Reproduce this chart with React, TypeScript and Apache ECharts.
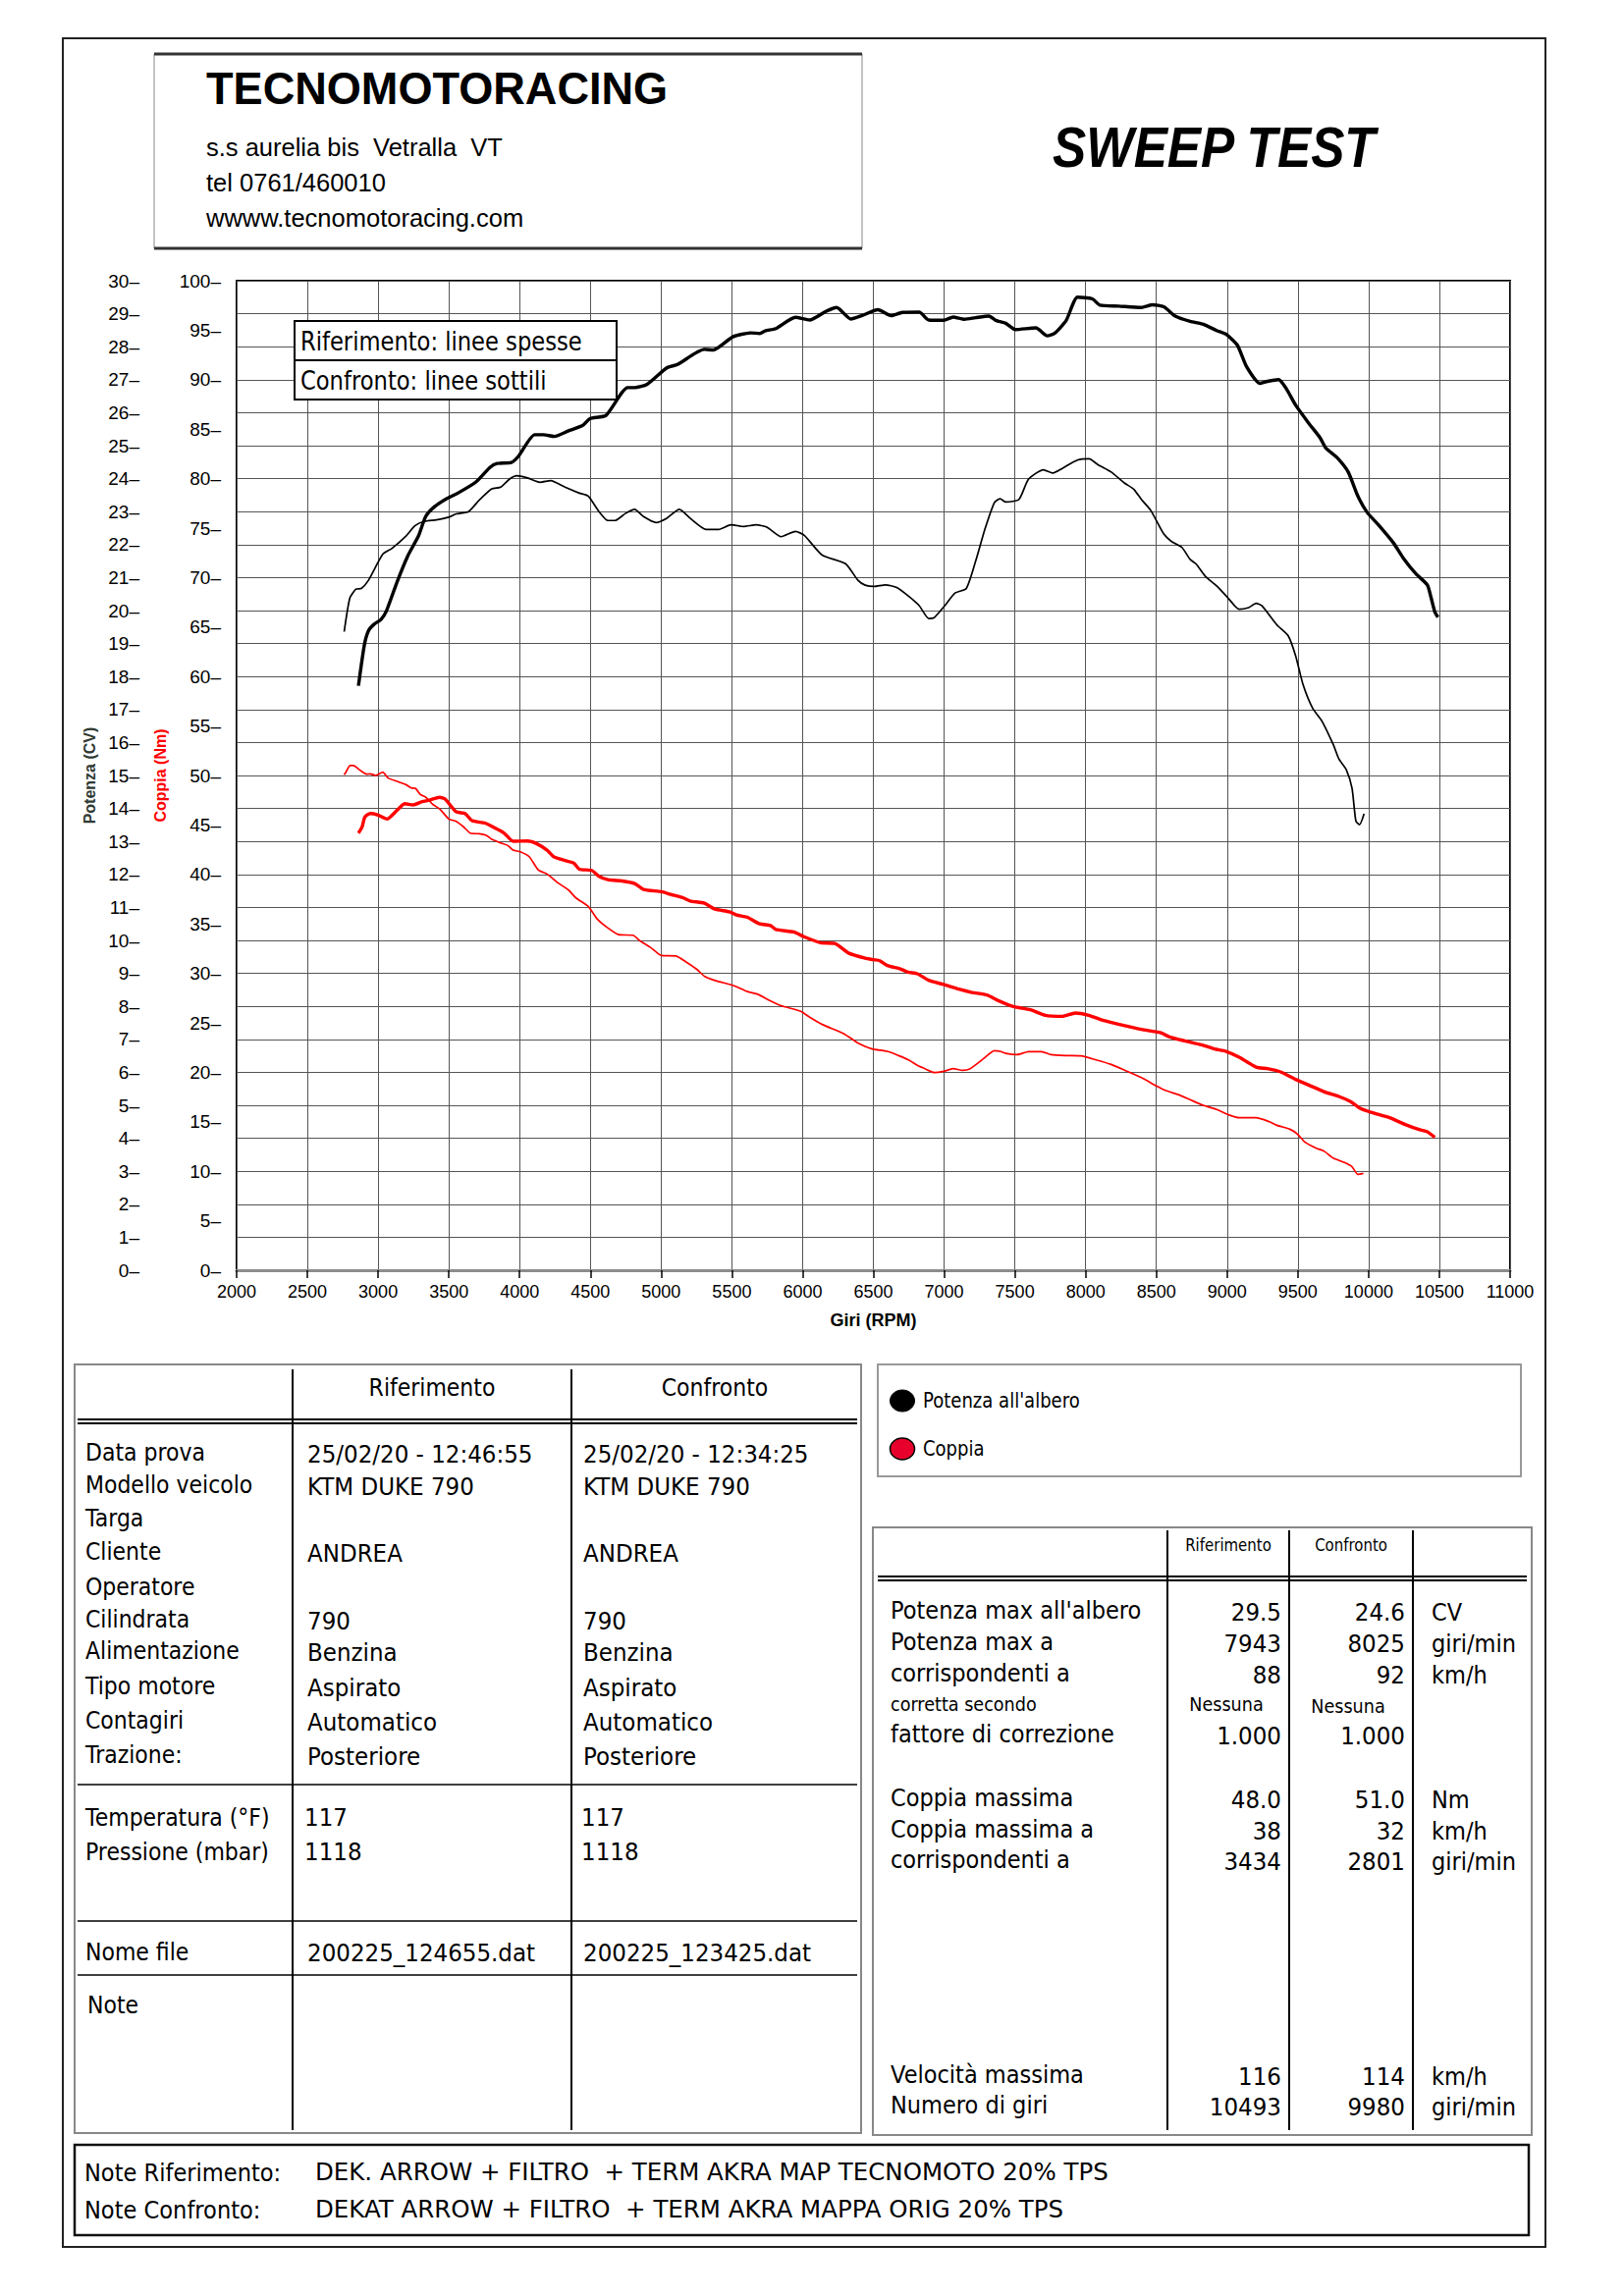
import React, { useEffect, useRef } from 'react';
import * as echarts from 'echarts';

// ---------- DATA ----------
const rpmMin = 2000;
const rpmMax = 11000;
const rpmStep = 500;
const cvMax = 30;
const nmMax = 100;

// Riferimento (thick) power, CV
const rifPower: [number, number][] = [
  [2861, 17.72], [2902, 18.94], [2932, 19.39], [2970, 19.58], [3020, 19.73], [3058, 19.98], [3134, 20.87], [3210, 21.66],
  [3285, 22.26], [3336, 22.85], [3399, 23.15], [3487, 23.4], [3563, 23.56], [3689, 23.89], [3790, 24.34], [3841, 24.46],
  [3942, 24.49], [3992, 24.68], [4106, 25.33], [4169, 25.33], [4245, 25.28], [4346, 25.45], [4447, 25.62], [4497, 25.82],
  [4611, 25.92], [4763, 26.76], [4813, 26.76], [4901, 26.86], [5040, 27.36], [5116, 27.46], [5305, 27.92], [5369, 27.9],
  [5507, 28.3], [5634, 28.42], [5697, 28.4], [5735, 28.48], [5811, 28.55], [5949, 28.89], [6050, 28.81], [6164, 29.07],
  [6240, 29.19], [6341, 28.84], [6417, 28.94], [6532, 29.12], [6625, 28.94], [6705, 29.04], [6824, 29.05], [6891, 28.81],
  [6997, 28.8], [7064, 28.9], [7144, 28.83], [7223, 28.88], [7316, 28.93], [7370, 28.79], [7436, 28.71], [7503, 28.52],
  [7649, 28.57], [7729, 28.33], [7782, 28.41], [7862, 28.79], [7943, 29.5], [8048, 29.45], [8101, 29.26], [8234, 29.23],
  [8394, 29.19], [8473, 29.27], [8553, 29.21], [8633, 28.93], [8739, 28.77], [8832, 28.68], [8926, 28.49], [8992, 28.38],
  [9072, 28.05], [9138, 27.39], [9231, 26.89], [9285, 26.95], [9364, 27.0], [9418, 26.73], [9484, 26.23], [9577, 25.68],
  [9657, 25.24], [9697, 24.93], [9777, 24.64], [9856, 24.2], [9923, 23.48], [9989, 22.98], [10069, 22.6], [10176, 22.05],
  [10242, 21.61], [10335, 21.11], [10415, 20.78], [10441, 20.4], [10468, 19.96], [10490, 19.8]
];

// Confronto (thin) power, CV
const confPower: [number, number][] = [
  [2760, 19.36], [2800, 20.38], [2843, 20.65], [2881, 20.67], [2932, 20.92], [3033, 21.71], [3096, 21.88], [3197, 22.26],
  [3260, 22.57], [3323, 22.7], [3412, 22.75], [3500, 22.83], [3551, 22.93], [3639, 23.0], [3715, 23.35], [3803, 23.69],
  [3866, 23.74], [3929, 23.99], [3980, 24.09], [4056, 24.02], [4144, 23.89], [4220, 23.94], [4321, 23.74], [4422, 23.56],
  [4485, 23.47], [4561, 23.0], [4624, 22.73], [4674, 22.73], [4750, 22.95], [4813, 23.07], [4876, 22.85], [4965, 22.67],
  [5040, 22.8], [5129, 23.07], [5205, 22.8], [5318, 22.46], [5407, 22.46], [5495, 22.6], [5583, 22.55], [5672, 22.6],
  [5747, 22.53], [5848, 22.24], [5949, 22.4], [6012, 22.28], [6138, 21.68], [6303, 21.42], [6391, 20.92], [6442, 20.77],
  [6505, 20.73], [6585, 20.78], [6665, 20.7], [6745, 20.45], [6824, 20.15], [6891, 19.76], [6931, 19.79], [7011, 20.18],
  [7077, 20.53], [7157, 20.67], [7223, 21.5], [7290, 22.49], [7356, 23.28], [7396, 23.39], [7436, 23.29], [7529, 23.37],
  [7596, 23.98], [7702, 24.27], [7769, 24.17], [7835, 24.31], [7941, 24.56], [8025, 24.6], [8088, 24.42], [8181, 24.2],
  [8274, 23.87], [8340, 23.68], [8394, 23.37], [8460, 23.04], [8553, 22.32], [8606, 22.1], [8680, 21.92], [8739, 21.55],
  [8779, 21.42], [8846, 21.04], [8926, 20.75], [8992, 20.45], [9059, 20.12], [9085, 20.04], [9152, 20.09], [9205, 20.22],
  [9245, 20.15], [9351, 19.57], [9431, 19.24], [9484, 18.63], [9537, 17.75], [9604, 17.04], [9670, 16.65], [9750, 15.94],
  [9790, 15.5], [9843, 15.17], [9883, 14.61], [9910, 13.62], [9936, 13.51], [9968, 13.84]
];

// Riferimento (thick) torque, Nm
const rifTorque: [number, number][] = [
  [2861, 44.17], [2886, 44.77], [2907, 45.83], [2944, 46.16], [2995, 46.03], [3063, 45.6], [3134, 46.49], [3189, 47.15],
  [3247, 47.02], [3311, 47.35], [3361, 47.5], [3434, 47.8], [3475, 47.6], [3551, 46.33], [3614, 46.16], [3664, 45.43],
  [3753, 45.2], [3803, 44.87], [3891, 44.17], [3954, 43.35], [4056, 43.38], [4119, 43.12], [4194, 42.45], [4240, 41.79],
  [4321, 41.4], [4384, 41.13], [4422, 40.53], [4510, 40.4], [4561, 39.81], [4624, 39.47], [4725, 39.34], [4813, 39.08],
  [4876, 38.48], [5003, 38.25], [5066, 37.99], [5154, 37.65], [5205, 37.32], [5306, 37.09], [5381, 36.49], [5482, 36.23],
  [5533, 35.9], [5609, 35.67], [5697, 35.0], [5773, 34.84], [5811, 34.44], [5937, 34.18], [6013, 33.68], [6126, 33.09],
  [6227, 33.02], [6328, 32.03], [6442, 31.53], [6500, 31.38], [6545, 31.28], [6598, 30.79], [6691, 30.45], [6745, 30.12],
  [6811, 29.96], [6891, 29.3], [6997, 28.87], [7104, 28.4], [7197, 28.07], [7303, 27.81], [7383, 27.25], [7489, 26.65],
  [7609, 26.32], [7715, 25.76], [7835, 25.66], [7928, 25.99], [8021, 25.76], [8128, 25.23], [8261, 24.77], [8394, 24.34],
  [8527, 24.01], [8593, 23.58], [8700, 23.18], [8819, 22.78], [8912, 22.35], [8992, 22.12], [9085, 21.53], [9205, 20.53],
  [9285, 20.37], [9378, 20.04], [9484, 19.28], [9577, 18.71], [9684, 18.05], [9790, 17.56], [9870, 17.06], [9936, 16.4],
  [10016, 15.97], [10149, 15.41], [10255, 14.75], [10362, 14.19], [10415, 13.99], [10468, 13.43]
];

// Confronto (thin) torque, Nm
const confTorque: [number, number][] = [
  [2760, 50.07], [2775, 50.4], [2801, 51.0], [2826, 51.0], [2869, 50.56], [2919, 50.13], [2944, 50.17], [2982, 50.0],
  [3033, 50.33], [3071, 49.74], [3134, 49.4], [3197, 49.07], [3235, 48.74], [3265, 48.68], [3298, 48.08], [3336, 47.81],
  [3386, 47.09], [3437, 46.59], [3500, 45.6], [3551, 45.37], [3601, 44.84], [3652, 44.17], [3715, 44.11], [3765, 43.94],
  [3803, 43.55], [3866, 43.18], [3917, 42.92], [3954, 42.45], [4005, 42.29], [4068, 41.79], [4131, 40.47], [4194, 40.04],
  [4270, 39.15], [4346, 38.42], [4396, 37.65], [4485, 36.76], [4548, 35.5], [4624, 34.58], [4700, 33.91], [4801, 33.85],
  [4851, 33.29], [4927, 32.6], [5003, 31.8], [5104, 31.76], [5179, 31.13], [5255, 30.38], [5306, 29.71], [5381, 29.28],
  [5482, 28.89], [5533, 28.65], [5609, 28.16], [5684, 27.89], [5760, 27.3], [5848, 26.73], [5987, 26.17], [6050, 25.57],
  [6138, 24.84], [6290, 23.92], [6404, 22.86], [6492, 22.36], [6598, 22.12], [6678, 21.69], [6758, 21.19], [6811, 20.7],
  [6878, 20.27], [6931, 19.97], [6997, 20.1], [7064, 20.37], [7131, 20.2], [7184, 20.37], [7277, 21.36], [7356, 22.19],
  [7396, 22.12], [7436, 21.92], [7516, 21.79], [7596, 22.09], [7689, 22.09], [7755, 21.79], [7862, 21.69], [7968, 21.66],
  [8074, 21.26], [8181, 20.8], [8287, 20.14], [8407, 19.38], [8500, 18.62], [8567, 18.15], [8660, 17.72], [8739, 17.23],
  [8832, 16.66], [8926, 16.24], [9005, 15.74], [9085, 15.41], [9205, 15.41], [9298, 15.01], [9351, 14.65], [9444, 14.25],
  [9497, 13.76], [9551, 12.93], [9630, 12.33], [9684, 12.04], [9750, 11.34], [9830, 10.88], [9883, 10.45], [9923, 9.69],
  [9963, 9.79]
];

// ---------- TEXT CONTENT ----------
const company = 'TECNOMOTORACING';
const addressLines = ['s.s aurelia bis  Vetralla  VT', 'tel 0761/460010', 'wwww.tecnomotoracing.com'];
const title = 'SWEEP TEST';
const chartLegend = ['Riferimento: linee spesse', 'Confronto: linee sottili'];
const colHeaders = ['Riferimento', 'Confronto'];

const infoLabels = ['Data prova', 'Modello veicolo', 'Targa', 'Cliente', 'Operatore', 'Cilindrata', 'Alimentazione', 'Tipo motore', 'Contagiri', 'Trazione:'];
const rifInfo = ['25/02/20 - 12:46:55', 'KTM DUKE 790', '', 'ANDREA', '', '790', 'Benzina', 'Aspirato', 'Automatico', 'Posteriore'];
const confInfo = ['25/02/20 - 12:34:25', 'KTM DUKE 790', '', 'ANDREA', '', '790', 'Benzina', 'Aspirato', 'Automatico', 'Posteriore'];
const envLabels = ['Temperatura (°F)', 'Pressione (mbar)'];
const rifEnv = ['117', '1118'];
const confEnv = ['117', '1118'];
const fileLabel = 'Nome file';
const rifFile = '200225_124655.dat';
const confFile = '200225_123425.dat';
const noteLabel = 'Note';

const legendItems = ["Potenza all'albero", 'Coppia'];

const resLabels = ["Potenza max all'albero", 'Potenza max a', 'corrispondenti a', 'corretta secondo', 'fattore di correzione', 'Coppia massima', 'Coppia massima a', 'corrispondenti a', 'Velocità massima', 'Numero di giri'];
const resRif = ['29.5', '7943', '88', 'Nessuna', '1.000', '48.0', '38', '3434', '116', '10493'];
const resConf = ['24.6', '8025', '92', 'Nessuna', '1.000', '51.0', '32', '2801', '114', '9980'];
const resUnits = ['CV', 'giri/min', 'km/h', '', '', 'Nm', 'km/h', 'giri/min', 'km/h', 'giri/min'];

const footLabels = ['Note Riferimento:', 'Note Confronto:'];
const footValues = ['DEK. ARROW + FILTRO  + TERM AKRA MAP TECNOMOTO 20% TPS', 'DEKAT ARROW + FILTRO  + TERM AKRA MAPPA ORIG 20% TPS'];

// ---------- LAYOUT ----------
const SANS = "'Liberation Sans', Arial, Helvetica, sans-serif";
const NARROW = "'Liberation Sans Narrow', 'Liberation Sans', Arial, sans-serif";
const TAH = "'DejaVu Sans', Verdana, sans-serif";
const W = 1654;
const H = 2339;
const G = { left: 241, top: 286, width: 1297, height: 1008 };
const infoY = [1480, 1513, 1547, 1581, 1617, 1650, 1682, 1718, 1753, 1788];
const envY = [1852, 1887];
const resY = [1641, 1673, 1705, 1736, 1767, 1832, 1864, 1895, 2114, 2145];

function T(text: string, x: number, y: number, o: any = {}) {
  return {
    type: 'text', x, y, z: 30, scaleX: o.sx ?? 0.88, silent: true,
    style: {
      text, fill: o.color ?? '#000', fontSize: o.size ?? 25, fontFamily: o.family ?? TAH,
      fontWeight: o.weight ?? 'normal', fontStyle: o.fstyle ?? 'normal',
      align: o.align ?? 'left', verticalAlign: 'middle'
    }
  };
}
function L(x1: number, y1: number, x2: number, y2: number, color = '#000', w = 2) {
  return { type: 'line', z: 25, silent: true, shape: { x1, y1, x2, y2 }, style: { stroke: color, lineWidth: w } };
}
function R(x: number, y: number, w: number, h: number, stroke: string, lw: number, fill = 'none', z = 20) {
  return { type: 'rect', z, silent: true, shape: { x, y, width: w, height: h }, style: { stroke, lineWidth: lw, fill } };
}

function buildGraphic() {
  const g: any[] = [];
  // page frame
  g.push(R(64, 39, 1510, 2250, '#222', 2));
  // header box
  g.push(R(157, 55, 721, 198, '#888', 1));
  g.push(L(157, 55, 878, 55, '#333', 3));
  g.push(L(157, 253, 878, 253, '#333', 3));
  g.push(T(company, 210, 90, { family: SANS, weight: 'bold', size: 47, sx: 0.96 }));
  addressLines.forEach((s, i) => g.push(T(s, 210, 150 + i * 36, { family: SANS, size: 25.5, sx: 1.0 })));
  g.push(T(title, 1072, 150, { family: SANS, weight: 'bold', fstyle: 'italic', size: 57, sx: 0.9 }));

  // chart legend box
  g.push(R(300, 327, 328, 80, '#000', 2, '#fff', 40));
  g.push({ ...L(300, 367, 628, 367, '#000', 2), z: 41 });
  chartLegend.forEach((s, i) => g.push({ ...T(s, 306, 348 + i * 40, { size: 26, sx: 0.87 }), z: 42 }));

  // left info table
  g.push(R(76, 1390, 801, 783, '#888', 2));
  g.push(L(298, 1395, 298, 2170));
  g.push(L(582, 1395, 582, 2170));
  g.push(L(79, 1446, 873, 1446));
  g.push(L(79, 1450, 873, 1450));
  g.push(L(79, 1818, 873, 1818, '#000', 1.5));
  g.push(L(79, 1957, 873, 1957, '#000', 1.5));
  g.push(L(79, 2012, 873, 2012, '#000', 1.5));
  g.push(T(colHeaders[0], 440, 1414, { align: 'center' }));
  g.push(T(colHeaders[1], 728, 1414, { align: 'center' }));
  infoLabels.forEach((s, i) => {
    g.push(T(s, 87, infoY[i]));
    if (rifInfo[i]) g.push(T(rifInfo[i], 313, infoY[i] + 2, { sx: 0.92 }));
    if (confInfo[i]) g.push(T(confInfo[i], 594, infoY[i] + 2, { sx: 0.92 }));
  });
  envLabels.forEach((s, i) => {
    g.push(T(s, 87, envY[i]));
    g.push(T(rifEnv[i], 310, envY[i], { sx: 0.92 }));
    g.push(T(confEnv[i], 592, envY[i], { sx: 0.92 }));
  });
  g.push(T(fileLabel, 87, 1989));
  g.push(T(rifFile, 313, 1990, { sx: 0.92 }));
  g.push(T(confFile, 594, 1990, { sx: 0.92 }));
  g.push(T(noteLabel, 89, 2043));

  // legend box (right top)
  g.push(R(894, 1390, 655, 114, '#999', 2));
  g.push({ type: 'ellipse', z: 30, silent: true, shape: { cx: 919, cy: 1427, rx: 12.5, ry: 11 }, style: { fill: '#000', stroke: '#000', lineWidth: 1 } });
  g.push({ type: 'ellipse', z: 30, silent: true, shape: { cx: 919, cy: 1476, rx: 12.5, ry: 11 }, style: { fill: '#e8002d', stroke: '#000', lineWidth: 1.5 } });
  g.push(T(legendItems[0], 940, 1427, { size: 20.5 }));
  g.push(T(legendItems[1], 940, 1476, { size: 20.5 }));

  // results table
  g.push(R(889, 1556, 671, 619, '#888', 2));
  g.push(L(1189, 1559, 1189, 2170));
  g.push(L(1313, 1559, 1313, 2170));
  g.push(L(1439, 1559, 1439, 2170));
  g.push(L(894, 1606, 1555, 1606));
  g.push(L(894, 1610, 1555, 1610));
  g.push(T(colHeaders[0], 1251, 1574, { align: 'center', size: 17 }));
  g.push(T(colHeaders[1], 1376, 1574, { align: 'center', size: 17 }));
  resLabels.forEach((s, i) => {
    const small = i === 3;
    g.push(T(s, 907, resY[i], { size: small ? 20 : 25, sx: small ? 0.88 : 0.9 }));
    if (small) {
      g.push(T(resRif[i], 1249, resY[i], { size: 20, align: 'center' }));
      g.push(T(resConf[i], 1373, resY[i] + 2, { size: 20, align: 'center' }));
    } else {
      g.push(T(resRif[i], 1305, resY[i] + 2, { align: 'right', sx: 0.92 }));
      g.push(T(resConf[i], 1431, resY[i] + 2, { align: 'right', sx: 0.92 }));
      if (resUnits[i]) g.push(T(resUnits[i], 1458, resY[i] + 2, { sx: 0.9 }));
    }
  });

  // footer box
  g.push(R(76, 2185, 1481, 92, '#111', 2.5));
  footLabels.forEach((s, i) => {
    g.push(T(s, 86, 2213 + i * 38, { size: 24, sx: 0.94 }));
    g.push(T(footValues[i], 321, 2213 + i * 38, { size: 24, sx: 1.02 }));
  });
  return g;
}

export default function App() {
  const ref = useRef<HTMLDivElement>(null);
  useEffect(() => {
    document.body.style.margin = '0';
    const chart = echarts.init(ref.current!, null, { renderer: 'svg' });
    const axisLabelBase = { fontFamily: NARROW, color: '#000' };
    const option: any = {
      animation: false,
      backgroundColor: '#fff',
      grid: { ...G, show: true, borderColor: '#000', borderWidth: 2, backgroundColor: 'transparent' },
      xAxis: {
        type: 'value', min: rpmMin, max: rpmMax, interval: rpmStep,
        axisLine: { show: true, onZero: false, lineStyle: { color: '#8c8c8c', width: 3 } },
        axisTick: { show: true, length: 8, lineStyle: { color: '#000', width: 1.5 } },
        axisLabel: { ...axisLabelBase, fontSize: 18, margin: 13, formatter: (v: number) => String(v) },
        splitLine: { show: true, lineStyle: { color: '#555', width: 1 } },
        name: 'Giri (RPM)', nameLocation: 'middle', nameGap: 42,
        nameTextStyle: { fontFamily: NARROW, fontWeight: 'bold', fontSize: 18, color: '#000' }
      },
      yAxis: [
        {
          type: 'value', min: 0, max: cvMax, interval: 1, position: 'left', offset: 91,
          axisLine: { show: false }, axisTick: { show: false },
          axisLabel: { ...axisLabelBase, fontSize: 19, margin: 8, formatter: (v: number) => `${v}–` },
          splitLine: { show: true, lineStyle: { color: '#555', width: 1 } },
          name: 'Potenza (CV)', nameLocation: 'middle', nameRotate: 90, nameGap: 48,
          nameTextStyle: { fontFamily: SANS, fontWeight: 'bold', fontSize: 16, color: '#2f3a33' }
        },
        {
          type: 'value', min: 0, max: nmMax, interval: 5, position: 'left', offset: 0,
          axisLine: { show: false }, axisTick: { show: false },
          axisLabel: { ...axisLabelBase, fontSize: 19, margin: 16, formatter: (v: number) => `${v}–` },
          splitLine: { show: false },
          name: 'Coppia (Nm)', nameLocation: 'middle', nameRotate: 90, nameGap: 66,
          nameTextStyle: { fontFamily: SANS, fontWeight: 'bold', fontSize: 16, color: '#ff0000' }
        }
      ],
      series: [
        { name: 'Potenza Riferimento', type: 'line', yAxisIndex: 0, data: rifPower, symbol: 'none', smooth: 0.2, lineStyle: { color: '#000', width: 3.4 }, z: 4 },
        { name: 'Potenza Confronto', type: 'line', yAxisIndex: 0, data: confPower, symbol: 'none', smooth: 0.2, lineStyle: { color: '#000', width: 1.7 }, z: 4 },
        { name: 'Coppia Riferimento', type: 'line', yAxisIndex: 1, data: rifTorque, symbol: 'none', smooth: 0.2, lineStyle: { color: '#ff0000', width: 3.4 }, z: 3 },
        { name: 'Coppia Confronto', type: 'line', yAxisIndex: 1, data: confTorque, symbol: 'none', smooth: 0.2, lineStyle: { color: '#ff0000', width: 1.7 }, z: 3 }
      ],
      graphic: buildGraphic()
    };
    chart.setOption(option);
    return () => chart.dispose();
  }, []);
  return <div ref={ref} style={{ width: W, height: H }} />;
}
